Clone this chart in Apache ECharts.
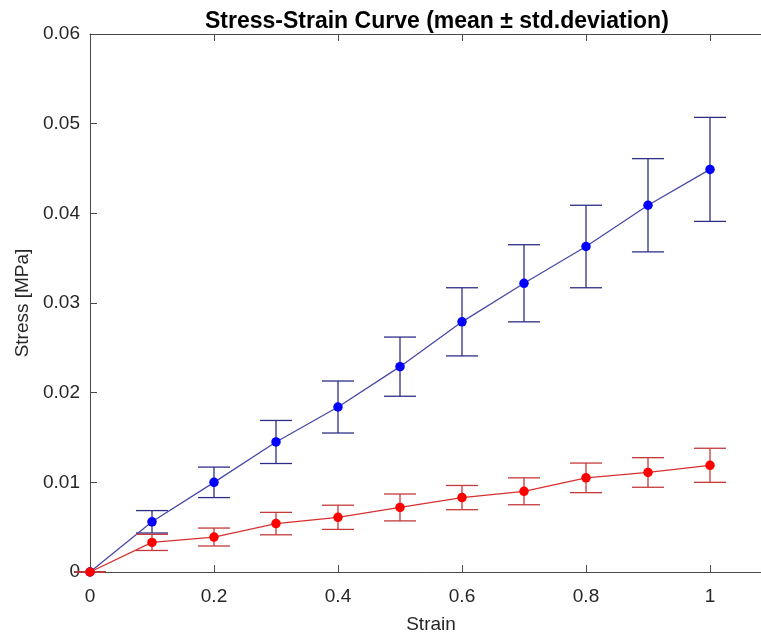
<!DOCTYPE html>
<html>
<head>
<meta charset="utf-8">
<script src="https://cdn.jsdelivr.net/npm/echarts@6/dist/echarts.min.js"></script>
<style>
  html, body { margin: 0; padding: 0; background: #fff; }
  #main { width: 761px; height: 638px; }
</style>
</head>
<body>
<div id="main"></div>
<script>
// strain steps and stress readings (mean, std) for the two samples
var strain = [0, 0.1, 0.2, 0.3, 0.4, 0.5, 0.6, 0.7, 0.8, 0.9, 1.0];
var blueMean = [0, 0.0056, 0.0100, 0.0145, 0.0184, 0.0229, 0.0279, 0.0322, 0.0363, 0.0409, 0.0449];
var blueStd  = [0, 0.00125, 0.0017, 0.0024, 0.0029, 0.0033, 0.0038, 0.0043, 0.0046, 0.0052, 0.0058];
var redMean  = [0, 0.0033, 0.0039, 0.0054, 0.0061, 0.0072, 0.0083, 0.0090, 0.0105, 0.0111, 0.0119];
var redStd   = [0, 0.0009, 0.0010, 0.00125, 0.00135, 0.0015, 0.00135, 0.0015, 0.00165, 0.00165, 0.0019];

var font = "'Liberation Sans', Arial, sans-serif";
var textColor = '#262626';
var axisColor = '#4a4a4a';

function pairs(xs, ys) {
    return xs.map(function (x, i) { return [x, ys[i]]; });
}

function errRows(xs, ys, sd) {
    return xs.map(function (x, i) { return [x, ys[i] - sd[i], ys[i] + sd[i]]; });
}

// vertical bar with a cap at each end
function errorBar(color) {
    return function (params, api) {
        var lo = api.coord([api.value(0), api.value(1)]);
        var hi = api.coord([api.value(0), api.value(2)]);
        var hw = 16;
        var style = { stroke: color, lineWidth: 1.3 };
        return {
            type: 'group',
            children: [
                { type: 'line', shape: { x1: lo[0], y1: lo[1], x2: hi[0], y2: hi[1] }, style: style },
                { type: 'line', shape: { x1: lo[0] - hw, y1: lo[1], x2: lo[0] + hw, y2: lo[1] }, style: style },
                { type: 'line', shape: { x1: hi[0] - hw, y1: hi[1], x2: hi[0] + hw, y2: hi[1] }, style: style }
            ]
        };
    };
}

var myChart = echarts.init(document.getElementById('main'));

var option = {
    animation: false,
    backgroundColor: '#fff',
    title: {
        text: 'Stress-Strain Curve (mean \u00b1 std.deviation)',
        left: 200,
        top: 5,
        textStyle: { fontFamily: font, fontSize: 23, fontWeight: 'bold', color: '#000' }
    },
    grid: { left: 90, top: 34, width: 682, height: 538, outerBoundsMode: 'none', containLabel: false },
    xAxis: [{
        type: 'value',
        min: 0,
        max: 1.1,
        interval: 0.2,
        name: 'Strain',
        nameLocation: 'middle',
        nameGap: 43,
        nameTextStyle: { fontFamily: font, fontSize: 19, color: textColor },
        axisLine: { show: true, onZero: false, lineStyle: { color: axisColor, width: 1 } },
        axisTick: { show: true, inside: true, length: 7, lineStyle: { color: axisColor } },
        axisLabel: { fontFamily: font, fontSize: 19, color: textColor, margin: 15, showMaxLabel: false },
        splitLine: { show: false }
    }, {
        type: 'value',
        position: 'top',
        min: 0,
        max: 1.1,
        interval: 0.2,
        axisLine: { show: true, onZero: false, lineStyle: { color: axisColor, width: 1 } },
        axisTick: { show: true, inside: true, length: 7, lineStyle: { color: axisColor } },
        axisLabel: { show: false },
        splitLine: { show: false }
    }],
    yAxis: {
        type: 'value',
        min: 0,
        max: 0.06,
        interval: 0.01,
        name: 'Stress [MPa]',
        nameLocation: 'middle',
        nameGap: 53,
        nameTextStyle: { fontFamily: font, fontSize: 19, color: textColor },
        axisLine: { show: true, lineStyle: { color: axisColor, width: 1 } },
        axisTick: { show: true, inside: true, length: 7, lineStyle: { color: axisColor } },
        axisLabel: { fontFamily: font, fontSize: 19, color: textColor, margin: 10 },
        splitLine: { show: false }
    },
    series: [{
        type: 'custom',
        renderItem: errorBar('#2e2e88'),
        data: errRows(strain, blueMean, blueStd),
        clip: false,
        z: 2
    }, {
        type: 'line',
        data: pairs(strain, blueMean),
        symbol: 'circle',
        symbolSize: 9.5,
        lineStyle: { color: '#4848a8', width: 1.3 },
        itemStyle: { color: '#0000ff' },
        z: 3
    }, {
        type: 'custom',
        renderItem: errorBar('#c43a3a'),
        data: errRows(strain, redMean, redStd),
        clip: false,
        z: 4
    }, {
        type: 'line',
        data: pairs(strain, redMean),
        symbol: 'circle',
        symbolSize: 9.5,
        lineStyle: { color: '#d83030', width: 1.3 },
        itemStyle: { color: '#ff0000' },
        z: 5
    }]
};

myChart.setOption(option);
</script>
</body>
</html>
